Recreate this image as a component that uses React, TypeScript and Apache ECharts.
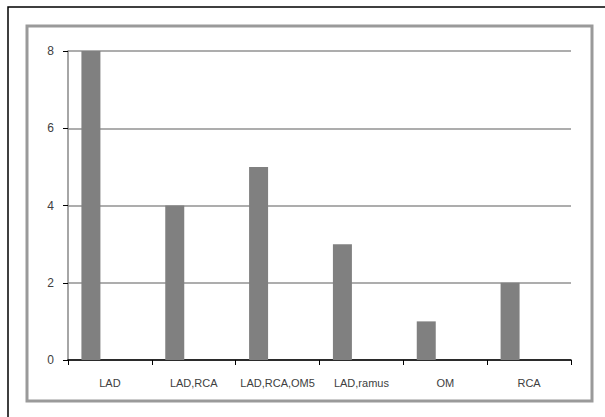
import React, { useEffect, useRef } from "react";
import * as echarts from "echarts";

const categories = ["LAD", "LAD,RCA", "LAD,RCA,OM5", "LAD,ramus", "OM", "RCA"];
const counts = [8, 4, 5, 3, 1, 2];
const emptySeries = ["-", "-", "-", "-", "-", "-"];
const yTicks = { min: 0, max: 8, interval: 2 };

export default function App() {
  const ref = useRef<HTMLDivElement>(null);
  useEffect(() => {
    if (!ref.current) return;
    const chart = echarts.init(ref.current, null, { renderer: "svg" });
    const font = "'Liberation Sans', Arial, sans-serif";
    chart.setOption({
      animation: false,
      backgroundColor: "#ffffff",
      grid: { left: 68, right: 34, top: 51, bottom: 57, containLabel: false },
      graphic: [
        {
          type: "rect",
          shape: { x: 8, y: 7, width: 640, height: 440 },
          style: { fill: "none", stroke: "#000000", lineWidth: 1.5 },
          silent: true,
        },
        {
          type: "rect",
          shape: { x: 27, y: 26, width: 565, height: 375 },
          style: { fill: "none", stroke: "#9a9a9a", lineWidth: 3 },
          silent: true,
        },
      ],
      xAxis: {
        type: "category",
        data: categories,
        boundaryGap: true,
        axisLine: { show: true, lineStyle: { color: "#000000", width: 1.5 } },
        axisTick: { show: true, length: 5, lineStyle: { color: "#000000", width: 1 } },
        axisLabel: {
          margin: 17,
          fontFamily: font,
          fontSize: 11,
          color: "#404040",
          interval: 0,
        },
        splitLine: { show: false },
      },
      yAxis: {
        type: "value",
        min: yTicks.min,
        max: yTicks.max,
        interval: yTicks.interval,
        axisLine: { show: true, lineStyle: { color: "#888888", width: 1.5 } },
        axisTick: { show: true, length: 5, lineStyle: { color: "#000000", width: 1 } },
        axisLabel: {
          margin: 14,
          fontFamily: font,
          fontSize: 12,
          color: "#404040",
        },
        splitLine: { show: true, lineStyle: { color: "#adadad", width: 2 } },
      },
      series: [
        {
          type: "bar",
          data: counts,
          barWidth: 19,
          barGap: "100%",
          itemStyle: { color: "#808080" },
        },
        {
          type: "bar",
          data: emptySeries,
          barWidth: 19,
          itemStyle: { color: "#808080" },
        },
      ],
    });
    return () => chart.dispose();
  }, []);
  return (
    <div
      ref={ref}
      style={{ position: "fixed", left: 0, top: 0, width: 605, height: 417, background: "#fff" }}
    />
  );
}
